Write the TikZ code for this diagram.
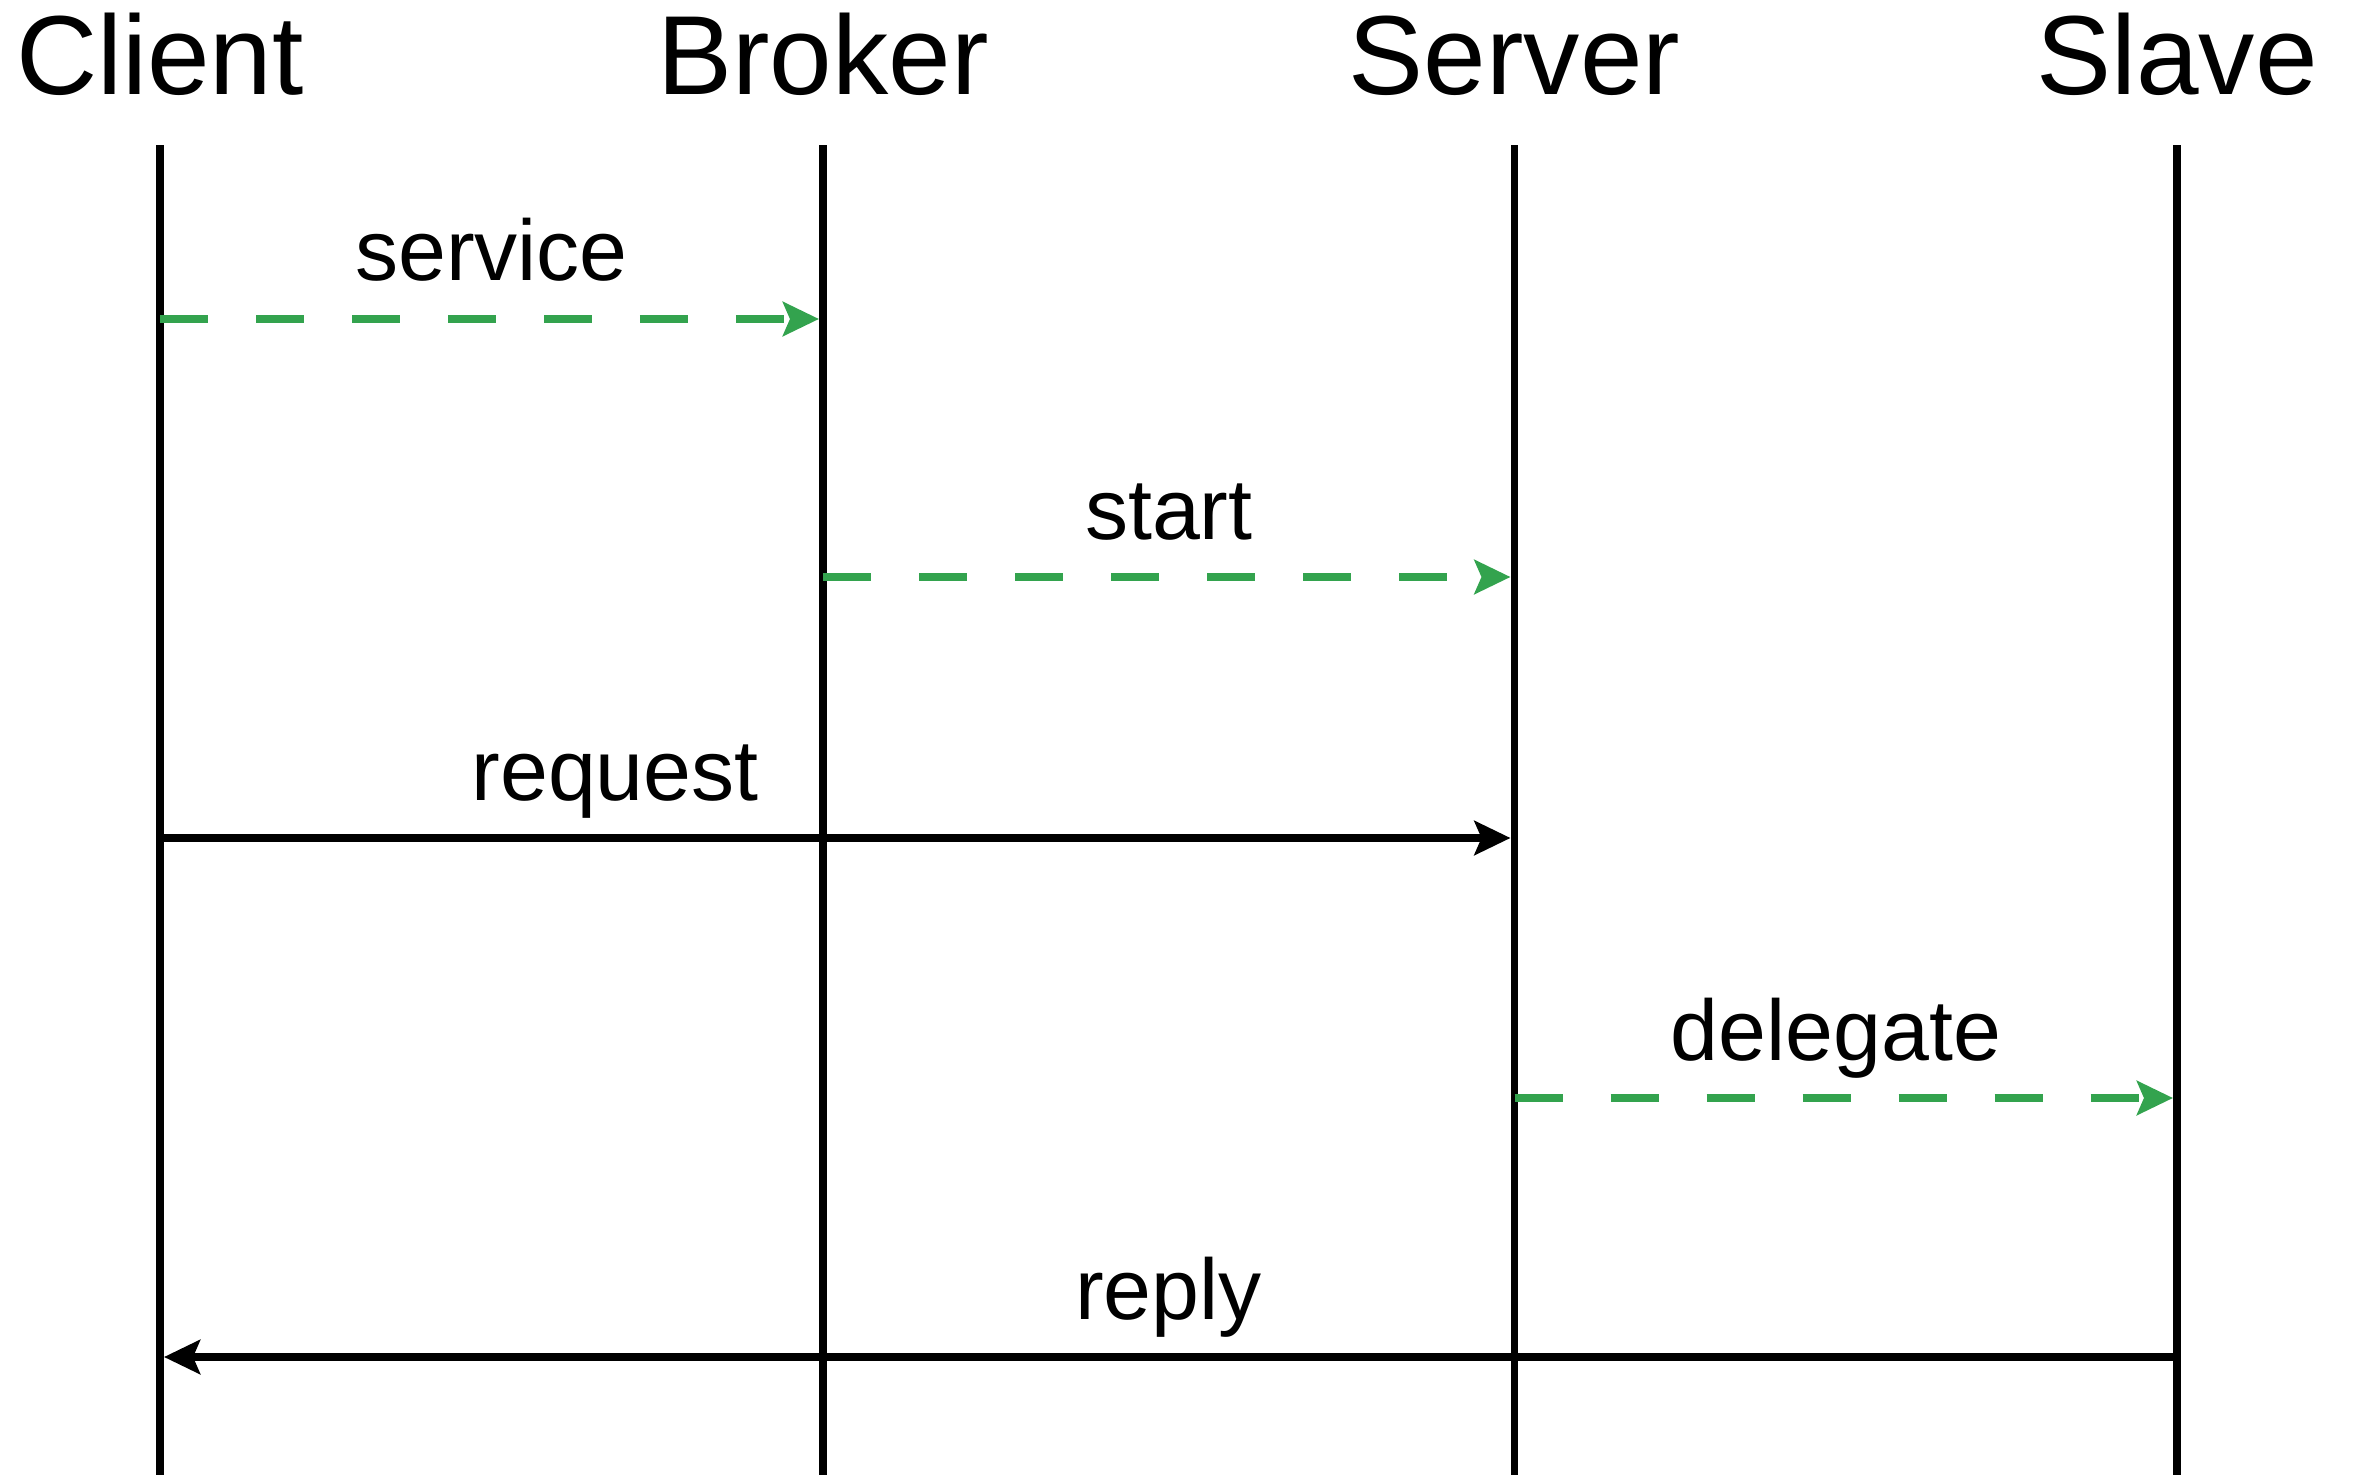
\documentclass[tikz,border=0pt]{standalone}
\usepackage{fontspec}
\setmainfont{Liberation Sans}
\usepackage{tikz}
\usetikzlibrary{arrows.meta, calc, positioning}
\definecolor{msggreen}{RGB}{51,163,78}

\begin{document}
\begin{tikzpicture}[
    actor/.style={anchor=base, inner sep=0pt, font=\fontsize{32}{38}\selectfont},
    lifeline/.style={line width=2.2pt},
    msg/.style={-{Stealth[length=0.36cm, width=0.34cm, inset=0.07cm]}, line width=2.2pt, shorten >=0.04cm},
    async/.style={msg, msggreen, dash pattern=on 0.48cm off 0.48cm},
    msglabel/.style={anchor=base, yshift=0.38cm, inner sep=0pt, black, font=\fontsize{24.5}{29}\selectfont}]

    \useasboundingbox (0,0) rectangle (23.54,-14.75);

    % participants and their lifelines
    \foreach \who/\x/\name in {client/1.60/Client, broker/8.23/Broker, server/15.145/Server, slave/21.77/Slave} {
        \node[actor] (\who) at (\x,-0.95) {\name};
        \coordinate (\who-top) at (\x,-1.45);
        \coordinate (\who-end) at (\x,-14.75);
        \draw[lifeline] (\who-top) -- (\who-end);
    }

    % message levels
    \coordinate (m1) at (0,-3.19);
    \coordinate (m2) at (0,-5.77);
    \coordinate (m3) at (0,-8.38);
    \coordinate (m4) at (0,-10.98);
    \coordinate (m5) at (0,-13.57);

    \draw[async] (client-top |- m1) -- (broker-top |- m1) node[msglabel, midway] {service};
    \draw[async] (broker-top |- m2) -- (server-top |- m2) node[msglabel, midway] {start};
    \draw[msg] (client-top |- m3) -- (server-top |- m3) node[msglabel, pos=0.336] {request};
    \draw[async] (server-top |- m4) -- (slave-top |- m4) node[msglabel, pos=0.485] {delegate};
    \draw[msg] (slave-top |- m5) -- (client-top |- m5) node[msglabel, midway] {reply};
\end{tikzpicture}
\end{document}
